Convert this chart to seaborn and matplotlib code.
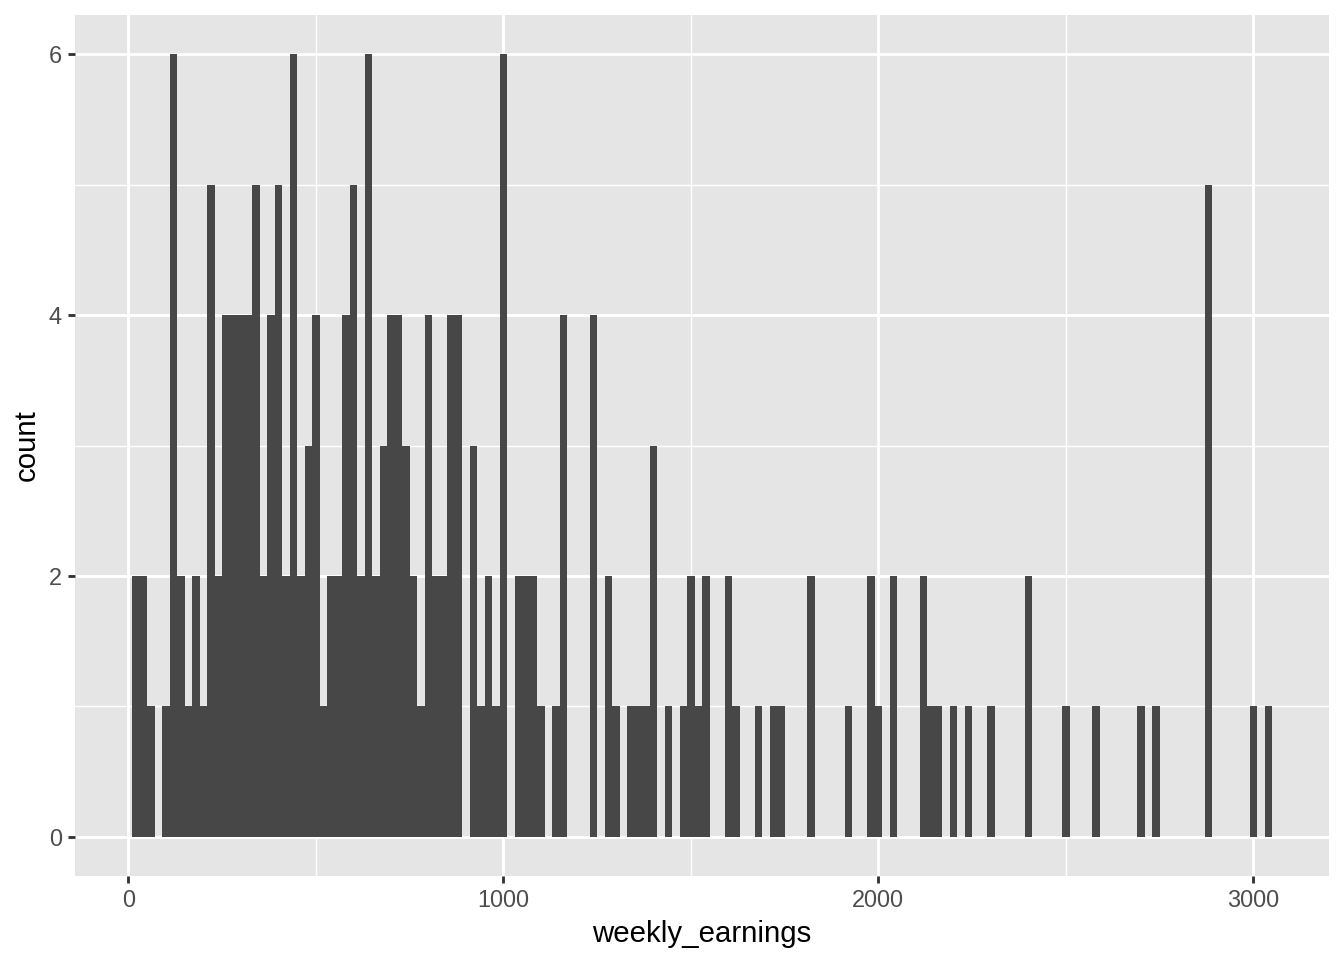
import numpy as np
import pandas as pd
import matplotlib.pyplot as plt
import seaborn as sns
from matplotlib.ticker import MultipleLocator

# histogram: binwidth 20, first bin starts at 10
bin_start = 10
bin_width = 20
counts = [
    2, 2, 1, 0, 1, 6, 2, 1, 2, 1,   # 10 - 210
    5, 2, 4, 4, 4, 4, 5, 2, 4, 5,   # 210 - 410
    2, 6, 2, 3, 4, 1, 2, 2, 4, 5,   # 410 - 610
    2, 6, 2, 3, 4, 4, 3, 2, 1, 4,   # 610 - 810
    2, 2, 4, 4, 0, 3, 1, 2, 1, 6,   # 810 - 1010
    0, 2, 2, 2, 1, 0, 1, 4, 0, 0,   # 1010 - 1210
    0, 4, 0, 2, 1, 0, 1, 1, 1, 3,   # 1210 - 1410
    0, 1, 0, 1, 2, 1, 2, 0, 0, 2,   # 1410 - 1610
    1, 0, 0, 1, 0, 1, 1, 0, 0, 0,   # 1610 - 1810
    2, 0, 0, 0, 0, 1, 0, 0, 2, 1,   # 1810 - 2010
    0, 2, 0, 0, 0, 2, 1, 1, 0, 1,   # 2010 - 2210
    0, 1, 0, 0, 1, 0, 0, 0, 0, 2,   # 2210 - 2410
    0, 0, 0, 0, 1, 0, 0, 0, 1, 0,   # 2410 - 2610
    0, 0, 0, 0, 1, 0, 1, 0, 0, 0,   # 2610 - 2810
    0, 0, 0, 5, 0, 0, 0, 0, 0, 1,   # 2810 - 3010
    0, 1,                           # 3010 - 3050
]
x_ticks = [0, 1000, 2000, 3000]
y_ticks = [0, 2, 4, 6]

n_bins = len(counts)
bin_end = bin_start + bin_width * n_bins
df = pd.DataFrame({
    'weekly_earnings': bin_start + bin_width * (np.arange(n_bins) + 0.5),
    'n': counts,
})

plt.rcParams['font.family'] = ['Liberation Sans', 'DejaVu Sans']

fig = plt.figure(figsize=(7, 5), dpi=192)
ax = fig.add_axes([75 / 1344, 1 - 876 / 960, (1329 - 75) / 1344, (876 - 15) / 960])

sns.histplot(data=df, x='weekly_earnings', weights='n', binwidth=bin_width,
             binrange=(bin_start, bin_end), ax=ax,
             color='#474747', edgecolor='none', alpha=1, linewidth=0, zorder=3)

# ggplot-ish grey panel
ax.set_facecolor('#E5E5E5')
for s in ax.spines.values():
    s.set_visible(False)
ax.set_xticks(x_ticks)
ax.set_yticks(y_ticks)
ax.xaxis.set_minor_locator(MultipleLocator(500))
ax.yaxis.set_minor_locator(MultipleLocator(1))
ax.grid(which='major', color='white', linewidth=1.07, zorder=0)
ax.grid(which='minor', color='white', linewidth=0.53, zorder=0)
ax.set_axisbelow(True)
ax.tick_params(which='major', length=2.75, width=1.07, color='#333333',
               labelsize=8.8, labelcolor='#4D4D4D', pad=2.2)
ax.tick_params(which='minor', length=0)

span = bin_end - bin_start
ax.set_xlim(bin_start - 0.05 * span, bin_end + 0.05 * span)
ax.set_ylim(-0.3, 6.3)

ax.set_xlabel('weekly_earnings', fontsize=11, color='black', labelpad=3)
ax.set_ylabel('count', fontsize=11, color='black', labelpad=3)

fig.savefig('out.png', dpi=192)
